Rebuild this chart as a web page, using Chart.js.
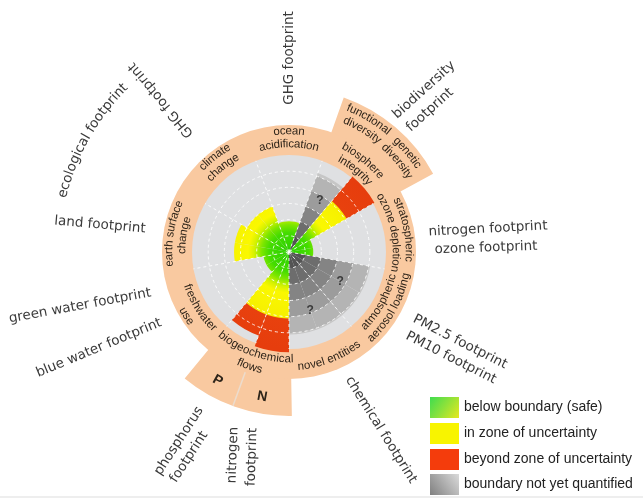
<!DOCTYPE html>
<html>
<head>
<meta charset="utf-8">
<script src="https://cdn.jsdelivr.net/npm/chart.js@4.4.1/dist/chart.umd.min.js"></script>
<style>
  html, body { margin: 0; padding: 0; background: #fff; }
  canvas { display: block; }
</style>
</head>
<body>
<canvas id="boundaries" width="643" height="499"></canvas>
<script>
// 18 slices of 20 degrees, clockwise, first one starting at -20 deg so ocean acidification straddles the top
const segmentLabels = [
    'ocean acidification', 'ocean acidification',
    'functional diversity', 'genetic diversity',
    'stratospheric ozone depletion', 'stratospheric ozone depletion',
    'atmospheric aerosol loading', 'atmospheric aerosol loading',
    'novel entities', 'novel entities',
    'nitrogen (N)', 'phosphorus (P)',
    'freshwater use', 'freshwater use',
    'earth surface change', 'earth surface change',
    'climate change', 'climate change',
];
const segmentValues = [1.9, 1.9, 5.2, 6.1, 1.5, 1.5, 5.1, 5.1, 5.1, 5.1, 6.2, 5.5, 1.6, 1.6, 3.4, 3.4, 3.0, 3.0];
const quantified = [true, true, false, true, true, true, false, false, false, false, true, true, true, true, true, true, true, true];
const ringMax = 6;

const legendItems = ['below boundary (safe)', 'in zone of uncertainty', 'beyond zone of uncertainty', 'boundary not yet quantified'];

const PEACH = '#f9c9a0';
const DISC = '#dfe0e2';
const RING_OUT = 127;
const TAB_OUT = 164;

const colourStops = [
    [0, '#2bd000'], [0.2, '#44dc00'], [0.28, '#7de600'], [0.36, '#d6f200'], [0.42, '#faf800'],
    [0.68, '#f6f000'], [0.69, '#e8410e'], [1, '#e63d0d'],
];
const greyStops = [
    [0, '#545454'], [1 / 6, '#545454'], [1 / 6, '#6d6d6d'], [2 / 6, '#6d6d6d'], [2 / 6, '#848484'],
    [3 / 6, '#848484'], [3 / 6, '#9c9c9c'], [4 / 6, '#9c9c9c'], [4 / 6, '#b4b4b4'], [5 / 6, '#b4b4b4'],
    [5 / 6, '#c6c6c6'], [1, '#c6c6c6'],
];

// labels inside the peach ring: lines, centre angle (deg clockwise from top), radius per line
const ringLabels = [
    { lines: ['ocean', 'acidification'], deg: 0, r: [121, 108] },
    { lines: ['biosphere', 'integrity'], deg: 39, r: [119, 106] },
    { lines: ['stratospheric', 'ozone depletion'], deg: 79, r: [120, 107] },
    { lines: ['atmospheric', 'aerosol loading'], deg: 119, r: [106, 119] },
    { lines: ['novel entities'], deg: 159, r: [115] },
    { lines: ['biogeochemical', 'flows'], deg: 199, r: [107, 121] },
    { lines: ['freshwater', 'use'], deg: 238, r: [107, 121] },
    { lines: ['earth surface', 'change'], deg: 279, r: [120, 107] },
    { lines: ['climate', 'change'], deg: 322, r: [121, 108] },
    { lines: ['functional', 'diversity'], deg: 31, r: [156, 143] },
    { lines: ['genetic', 'diversity'], deg: 50, r: [155, 142] },
];

const footprints = [
    { text: 'GHG footprint', x: 289, y: 58, rot: -90 },
    { text: 'GHG footprint', x: 161, y: 100, rot: -130 },
    { text: 'land footprint', x: 100, y: 225, rot: 5 },
    { text: 'green water footprint', x: 80, y: 306, rot: -10.5 },
    { text: 'blue water footprint', x: 99, y: 348, rot: -22.5 },
    { text: 'phosphorus', x: 179, y: 441, rot: -57 },
    { text: 'footprint', x: 189, y: 457, rot: -57 },
    { text: 'nitrogen', x: 233, y: 455, rot: -88 },
    { text: 'footprint', x: 252, y: 457, rot: -88 },
    { text: 'chemical footprint', x: 381, y: 430, rot: 58 },
    { text: 'PM2.5 footprint', x: 460, y: 342, rot: 27 },
    { text: 'PM10 footprint', x: 451, y: 358, rot: 27 },
    { text: 'nitrogen footprint', x: 488, y: 229, rot: -3 },
    { text: 'ozone footprint', x: 486, y: 248, rot: -2 },
    { text: 'biodiversity', x: 424, y: 90, rot: -42 },
    { text: 'footprint', x: 430, y: 110, rot: -42 },
];

const rad = d => d * Math.PI / 180;

function fillFor(context) {
    const chart = context.chart;
    const scale = chart.scales.r;
    if (!scale || !scale.drawingArea) return '#cccccc';
    const g = chart.ctx.createRadialGradient(scale.xCenter, scale.yCenter, 0, scale.xCenter, scale.yCenter, scale.drawingArea);
    const stops = quantified[context.dataIndex] ? colourStops : greyStops;
    stops.forEach(([o, c]) => g.addColorStop(o, c));
    return g;
}

function annulus(ctx, cx, cy, r0, r1, a0, a1) {
    const s = rad(a0) - Math.PI / 2, e = rad(a1) - Math.PI / 2;
    ctx.beginPath();
    ctx.arc(cx, cy, r1, s, e);
    ctx.arc(cx, cy, r0, e, s, true);
    ctx.closePath();
    ctx.fill();
}

function arcText(ctx, text, cx, cy, r, deg) {
    const bottom = deg > 90 && deg < 270;
    const dir = bottom ? -1 : 1;
    const chars = [...text];
    const widths = chars.map(ch => ctx.measureText(ch).width);
    const total = widths.reduce((s, w) => s + w, 0);
    let a = rad(deg) - dir * total / (2 * r);
    chars.forEach((ch, i) => {
        const mid = a + dir * widths[i] / (2 * r);
        ctx.save();
        ctx.translate(cx + r * Math.sin(mid), cy - r * Math.cos(mid));
        ctx.rotate(bottom ? mid - Math.PI : mid);
        ctx.fillText(ch, 0, 0);
        ctx.restore();
        a += dir * widths[i] / r;
    });
}

function rotText(ctx, text, x, y, deg) {
    ctx.save();
    ctx.translate(x, y);
    ctx.rotate(rad(deg));
    ctx.fillText(text, 0, 0);
    ctx.restore();
}

const decor = {
    id: 'decor',
    beforeDatasetsDraw(chart) {
        const { ctx } = chart;
        const sc = chart.scales.r;
        const cx = sc.xCenter, cy = sc.yCenter, R = sc.drawingArea;
        ctx.save();
        ctx.fillStyle = PEACH;
        annulus(ctx, cx, cy, R, TAB_OUT, 19.5, 61.5);
        annulus(ctx, cx, cy, R, TAB_OUT, 179, 219.5);
        ctx.beginPath();
        ctx.arc(cx, cy, RING_OUT, 0, Math.PI * 2);
        ctx.fill();
        // thin divider between the P and N tabs
        ctx.strokeStyle = '#ecdccd';
        ctx.lineWidth = 1.5;
        ctx.beginPath();
        ctx.moveTo(cx + (RING_OUT + 1) * Math.sin(rad(200)), cy - (RING_OUT + 1) * Math.cos(rad(200)));
        ctx.lineTo(cx + TAB_OUT * Math.sin(rad(200)), cy - TAB_OUT * Math.cos(rad(200)));
        ctx.stroke();
        ctx.fillStyle = DISC;
        ctx.beginPath();
        ctx.arc(cx, cy, R, 0, Math.PI * 2);
        ctx.fill();
        ctx.restore();
    },
    afterDraw(chart) {
        const { ctx } = chart;
        const sc = chart.scales.r;
        const cx = sc.xCenter, cy = sc.yCenter;
        ctx.save();
        ctx.textAlign = 'center';
        ctx.textBaseline = 'middle';

        // ring labels
        ctx.fillStyle = '#2e2419';
        ctx.font = '11.5px "Liberation Sans", Arial, sans-serif';
        ringLabels.forEach(l => l.lines.forEach((t, i) => arcText(ctx, t, cx, cy, l.r[i], l.deg)));

        // P / N tabs
        ctx.font = 'bold 14px "Liberation Sans", Arial, sans-serif';
        [['P', 209], ['N', 190.5]].forEach(([t, d]) => {
            rotText(ctx, t, cx + 147 * Math.sin(rad(d)), cy - 147 * Math.cos(rad(d)), d - 180);
        });

        // question marks on the unquantified wedges
        ctx.fillStyle = '#3a3a3a';
        ctx.font = 'bold 12px "Liberation Sans", Arial, sans-serif';
        [[60, 31], [59, 120], [62, 160]].forEach(([r, d]) => {
            ctx.fillText('?', cx + r * Math.sin(rad(d)), cy - r * Math.cos(rad(d)));
        });

        // footprint labels around the outside
        ctx.fillStyle = '#3a3a3a';
        ctx.font = '13.5px "DejaVu Sans", Verdana, sans-serif';
        footprints.forEach(f => rotText(ctx, f.text, f.x, f.y, f.rot));
        arcText(ctx, 'ecological footprint', cx, cy, 233, 299.5);

        // legend
        const lx = 430, lw = 29, lh = 21, ly = [397, 423, 449, 474];
        const g1 = ctx.createLinearGradient(lx, ly[0], lx + lw, ly[0] + lh);
        g1.addColorStop(0, '#3fdc4f'); g1.addColorStop(0.5, '#8fe23a'); g1.addColorStop(1, '#e6e81e');
        const g4 = ctx.createLinearGradient(lx, ly[3] + lh, lx + lw, ly[3]);
        g4.addColorStop(0, '#808080'); g4.addColorStop(1, '#dadada');
        const swatches = [g1, '#f8f400', '#f43c0c', g4];
        ctx.textAlign = 'left';
        ctx.font = '14px "Liberation Sans", Arial, sans-serif';
        legendItems.forEach((t, i) => {
            ctx.fillStyle = swatches[i];
            ctx.fillRect(lx, ly[i], lw, lh);
            ctx.fillStyle = '#222';
            ctx.fillText(t, 464, ly[i] + lh / 2);
        });

        ctx.fillStyle = '#eeeeee';
        ctx.fillRect(0, 496, 643, 2);
        ctx.restore();
    },
};

const sectorEdge = i => i % 2 === 0 || i === 3 || i === 11;

new Chart(document.getElementById('boundaries'), {
    type: 'polarArea',
    data: {
        labels: segmentLabels,
        datasets: [{
            data: segmentValues,
            backgroundColor: fillFor,
            borderWidth: 0,
            clip: false,
        }],
    },
    options: {
        responsive: false,
        animation: false,
        events: [],
        layout: { padding: { left: 192, right: 257, top: 155, bottom: 150 } },
        plugins: {
            legend: { display: false },
            tooltip: { enabled: false },
        },
        scales: {
            r: {
                min: 0,
                max: ringMax,
                startAngle: -20,
                ticks: { display: false, stepSize: 1 },
                pointLabels: { display: false },
                grid: {
                    z: 1,
                    lineWidth: 1,
                    color: c => (c.tick && c.tick.value >= ringMax) ? 'rgba(0,0,0,0)' : 'rgba(255,255,255,0.85)',
                },
                border: { dash: [3, 3] },
                angleLines: {
                    display: true,
                    lineWidth: 1,
                    borderDash: [3, 3],
                    color: c => sectorEdge(c.index) ? 'rgba(255,255,255,0.85)' : 'rgba(0,0,0,0)',
                },
            },
        },
    },
    plugins: [decor],
});
</script>
</body>
</html>
